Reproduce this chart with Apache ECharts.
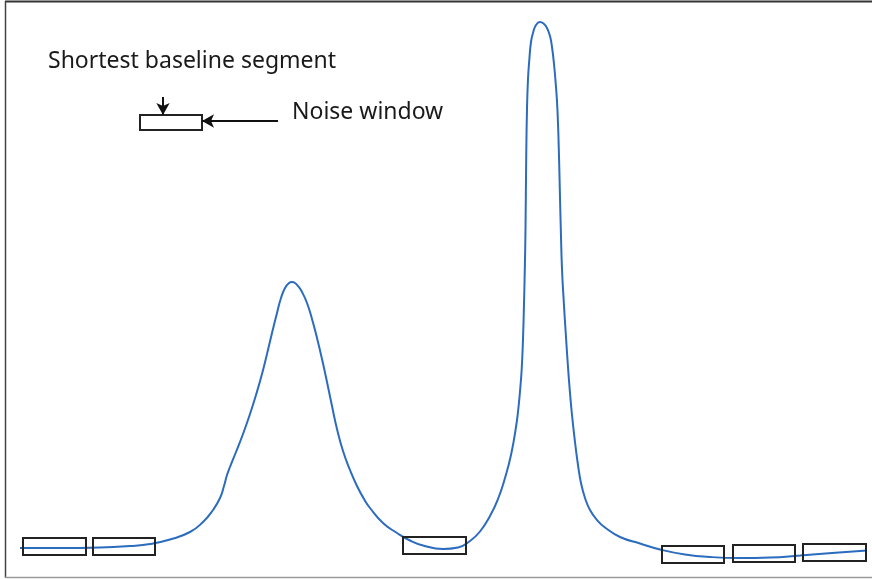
<!DOCTYPE html>
<html>
<head>
<meta charset="utf-8">
<script src="https://cdn.jsdelivr.net/npm/echarts@6/dist/echarts.min.js"></script>
<style>
  html, body { margin: 0; padding: 0; background: #ffffff; }
  #chart { width: 872px; height: 579px; }
</style>
</head>
<body>
<div id="chart"></div>
<script>
// Chromatogram trace: retention position and detector response
const tracePosition = [20, 60, 100, 130, 150, 170, 190, 203, 213, 220, 224, 227, 230, 236, 243, 250, 256, 262, 267, 272, 277, 281, 285, 289, 292, 295, 298, 302, 307, 312, 317, 322, 327, 332, 337, 343, 350, 357, 364, 370, 383, 397, 410, 423, 443, 458, 470, 480, 490, 498, 505, 511, 516, 518.3, 520.2, 521.7, 523, 524, 524.8, 525.5, 526.2, 527, 528, 529.3, 531, 533, 536, 540, 544, 547, 550, 552, 554, 556, 557.5, 558.8, 559.8, 560.8, 562, 563.6, 565.6, 568, 570, 572, 575, 578, 581, 585, 590, 597, 605, 620, 640, 662, 685, 710, 740, 770, 800, 832, 867];
const traceResponse = [31, 31, 31.5, 33, 35, 39.5, 47, 57, 69, 81, 93, 104, 112, 127, 145, 165, 184, 205, 225, 246, 266, 281, 291, 296, 297, 296, 293, 287, 276, 260, 241, 220, 197, 173, 150, 128, 109, 93, 80, 71, 56, 46, 38.5, 33.5, 30, 31.5, 38, 47.5, 63, 80, 101, 124, 152, 170, 190, 210, 240, 275, 310, 350, 420, 470, 500, 519, 537, 546, 554, 557, 555, 551, 543, 532, 515, 492, 468, 430, 390, 350, 310, 280, 248, 212, 186, 164, 137, 114, 96, 81, 69, 59, 51.5, 42, 35.5, 29, 24.5, 22, 21, 21.5, 23.5, 26, 28.5];

// Noise windows along the baseline: [start, end, low, high]
const noiseWindows = [
  [23, 86, 24, 41],
  [93, 155, 24, 41],
  [403, 466, 25, 42],
  [662, 724, 16, 33],
  [733, 795, 17, 34],
  [803, 866, 18, 35]
];

// Key: a single window drawn on its own, with its two callouts
const keyWindow = [[140, 202, 449, 464]];
const keyLabels = ['Shortest baseline segment', 'Noise window'];
const keyLabelAnchors = [[48, 518], [292, 467]];
const keyArrows = [
  [[163, 482], [163, 464]],
  [[278, 458], [202, 458]]
];

const traceData = tracePosition.map((x, i) => [x, traceResponse[i]]);

function renderWindow(params, api) {
  const a = api.coord([api.value(0), api.value(3)]);
  const b = api.coord([api.value(1), api.value(2)]);
  return {
    type: 'rect',
    shape: { x: a[0], y: a[1], width: b[0] - a[0], height: b[1] - a[1] },
    style: { fill: 'none', stroke: '#222', lineWidth: 2 }
  };
}

const chart = echarts.init(document.getElementById('chart'), null, { renderer: 'canvas' });

chart.setOption({
  animation: false,
  backgroundColor: '#ffffff',
  grid: { left: 0, right: 0, top: 0, bottom: 0 },
  xAxis: { type: 'value', min: 0, max: 872, show: false },
  yAxis: { type: 'value', min: 0, max: 579, show: false },
  graphic: [
    { type: 'line', shape: { x1: 5, y1: 1.5, x2: 872, y2: 1.5 }, style: { stroke: '#333', lineWidth: 2 } },
    { type: 'line', shape: { x1: 5.5, y1: 1, x2: 5.5, y2: 578 }, style: { stroke: '#444', lineWidth: 1.5 } },
    { type: 'line', shape: { x1: 5, y1: 577.5, x2: 872, y2: 577.5 }, style: { stroke: '#9a9a9a', lineWidth: 1.5 } }
  ],
  series: [
    {
      type: 'line',
      data: traceData,
      smooth: 0.5,
      showSymbol: false,
      lineStyle: { color: '#2b6cbf', width: 2 },
      z: 2
    },
    {
      type: 'custom',
      data: noiseWindows,
      renderItem: renderWindow,
      z: 3
    },
    {
      type: 'custom',
      data: keyWindow,
      renderItem: renderWindow,
      z: 3,
      markLine: {
        silent: true,
        symbol: ['none', 'arrow'],
        symbolSize: [10, 12],
        label: { show: false },
        lineStyle: { color: '#111', width: 2, type: 'solid' },
        data: keyArrows.map(([s, e]) => [{ coord: s }, { coord: e }])
      }
    },
    {
      type: 'custom',
      data: keyLabels.map((t, i) => [keyLabelAnchors[i][0], keyLabelAnchors[i][1], t]),
      renderItem: function (params, api) {
        const p = api.coord([api.value(0), api.value(1)]);
        return {
          type: 'text',
          x: p[0],
          y: p[1],
          style: {
            text: keyLabels[params.dataIndex],
            fill: '#1a1a1a',
            font: '23px "Noto Sans", sans-serif',
            textAlign: 'left',
            textVerticalAlign: 'middle'
          }
        };
      },
      z: 4
    }
  ]
});
</script>
</body>
</html>
